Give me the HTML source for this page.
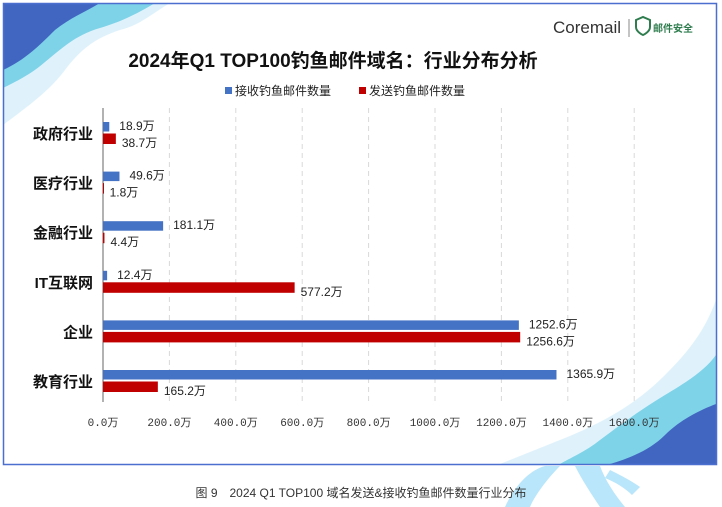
<!DOCTYPE html>
<html><head><meta charset="utf-8"><style>
body{margin:0;width:722px;height:507px;background:#fff;overflow:hidden;font-family:"Liberation Sans","Noto Sans CJK SC",sans-serif;}
svg{position:absolute;left:0;top:0}
</style></head><body>
<svg width="722" height="507">
<g>
<path d="M3,3 L170,3 C150,15 140,25 120,30 C95,38 80,50 65,70 C50,90 30,105 3,125 Z" fill="#dff2fb"/>
<path d="M3,3 L155,3 C135,15 120,22 100,28 C75,35 60,50 45,62 C30,75 15,82 3,88 Z" fill="#7fd3e8"/>
<path d="M3,3 L100,3 C85,12 70,18 55,30 C40,45 25,60 3,70 Z" fill="#4166c2"/>
<path d="M716,300 C705,330 690,350 665,375 C640,400 610,420 560,440 C530,452 515,458 500,464 L716,464 Z" fill="#dff2fb"/>
<path d="M716,355 C705,370 690,380 665,395 C640,410 620,425 600,440 C585,452 570,458 560,464 L716,464 Z" fill="#7fd3e8"/>
<path d="M716,404 C700,410 680,420 665,435 C650,450 630,458 610,464 L716,464 Z" fill="#4166c2"/>
<path d="M505,507 C515,485 530,470 545,466 L560,466 C548,478 535,495 530,507 Z" fill="#b9e6fa"/>
<path d="M575,466 L600,466 C605,480 615,495 625,507 L600,507 C592,495 582,480 575,466 Z" fill="#b9e6fa"/>
<path d="M610,470 C620,475 630,480 640,487 L632,495 C625,488 615,482 605,478 Z" fill="#b9e6fa"/>
</g>
<rect x="3.5" y="3.5" width="713" height="461" fill="none" stroke="#4a6fcf" stroke-width="1.5"/>
<text x="553" y="33" font-size="17" fill="#333">Coremail</text>
<line x1="629" y1="19" x2="629" y2="37" stroke="#888"/>
<path d="M636,20 l7,-3 l7,3 v7 c0,5 -7,8 -7,8 c0,0 -7,-3 -7,-8 z" fill="none" stroke="#2f7d4f" stroke-width="2"/>
<text x="653" y="32" font-size="10" font-weight="bold" fill="#2f7d4f">邮件安全</text>
<text x="333" y="67" font-size="19" font-weight="bold" fill="#111" text-anchor="middle">2024年Q1 TOP100钓鱼邮件域名：行业分布分析</text>
<g>
<rect x="225" y="87" width="7" height="7" fill="#4472c4"/>
<text x="235" y="95" font-size="12" fill="#222">接收钓鱼邮件数量</text>
<rect x="359" y="87" width="7" height="7" fill="#c00000"/>
<text x="369" y="95" font-size="12" fill="#222">发送钓鱼邮件数量</text>
</g>
<g id="plot"></g>
<text x="361" y="497" font-size="12" fill="#333" text-anchor="middle">图 9　2024 Q1 TOP100  域名发送&amp;接收钓鱼邮件数量行业分布</text>
</svg>
<script>
const categories=["政府行业","医疗行业","金融行业","IT互联网","企业","教育行业"];
const received=[18.9,49.6,181.1,12.4,1252.6,1365.9];
const sent=[38.7,1.8,4.4,577.2,1256.6,165.2];
const ticks=[0,200,400,600,800,1000,1200,1400,1600];
const NS="http://www.w3.org/2000/svg";
const g=document.getElementById('plot');
const x=v=>103+v*0.332;
const yc=i=>133+i*49.6;
function mk(t,a,txt){const e=document.createElementNS(NS,t);for(const k in a)e.setAttribute(k,a[k]);if(txt!==undefined)e.textContent=txt;g.appendChild(e);return e;}
ticks.forEach((t,i)=>{
 if(t>0){const l=mk('line',{x1:x(t),x2:x(t),y1:108,y2:402,stroke:'#d9d9d9','stroke-dasharray':'5,4'});
 
 }
 const tl=mk('text',{x:x(t),y:426,'font-size':11,fill:'#333','text-anchor':'middle','font-family':'"Liberation Mono","Noto Sans CJK SC",monospace'},t.toFixed(1)+'万');
 
 
});
const ax=mk('line',{x1:103,x2:103,y1:108,y2:402,stroke:'#999','stroke-width':1.5});


categories.forEach((c,i)=>{
 const cy=yc(i);
 const cl=mk('text',{x:93,y:cy+6,'font-size':15,'font-weight':'bold',fill:'#111','text-anchor':'end'},c);
 
 
 const b1=mk('rect',{x:103,y:cy-11,width:Math.max(1,x(received[i])-103),height:9.5,fill:'#4472c4'});
 
 
 const b2=mk('rect',{x:103,y:cy+0.5,width:Math.max(1,x(sent[i])-103),height:10.5,fill:'#c00000'});
 
 
 const v1=mk('text',{x:x(received[i])+10,y:cy-3,'font-size':12,fill:'#222'},received[i].toFixed(1)+'万');
 
 
 const v2=mk('text',{x:x(sent[i])+6,y:cy+14,'font-size':12,fill:'#222'},sent[i].toFixed(1)+'万');
 
 
});
</script>
</body></html>
